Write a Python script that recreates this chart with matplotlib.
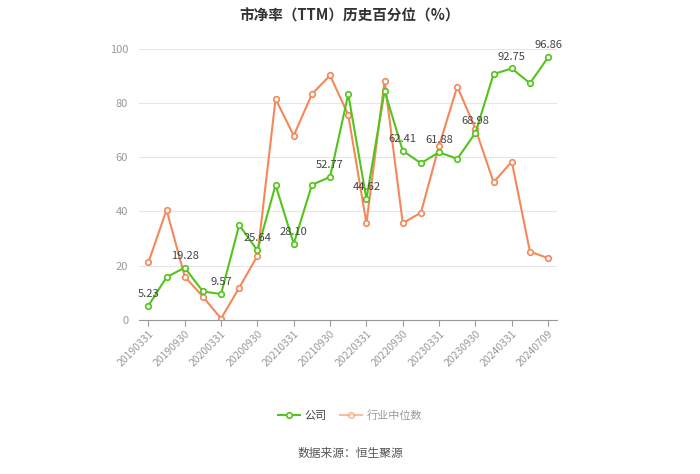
import matplotlib.pyplot as plt
import numpy as np

plt.rcParams['font.family'] = ['Noto Sans CJK SC', 'DejaVu Sans']

dates = ["20190331", "20190630", "20190930", "20191231",
         "20200331", "20200630", "20200930", "20201231",
         "20210331", "20210630", "20210930", "20211231",
         "20220331", "20220630", "20220930", "20221231",
         "20230331", "20230630", "20230930", "20231231",
         "20240331", "20240630", "20240709"]
company = [5.23, 15.8, 19.28, 10.5, 9.57, 35.0, 25.64, 49.8, 28.10, 49.8, 52.77, 83.3,
           44.62, 84.5, 62.41, 57.8, 61.88, 59.4, 68.98, 90.7, 92.75, 87.3, 96.86]
industry = [21.2, 40.6, 16.0, 8.6, 0.5, 11.9, 23.6, 81.5, 68.0, 83.3, 90.2, 75.6,
            35.7, 88.2, 35.7, 39.6, 64.2, 86.1, 70.5, 50.8, 58.4, 25.2, 22.8]

green = "#52c41a"
orange = "#f5875a"

fig = plt.figure(figsize=(7, 4.74), dpi=100)
ax = fig.add_axes([0.199, 0.325, 0.597, 0.572])

x = np.arange(len(dates))
ax.plot(x, company, color=green, lw=1.5, marker="o", ms=4, mfc="white",
        mec=green, mew=1.2, label="公司", zorder=3)
ax.plot(x, industry, color=orange, lw=1.5, marker="o", ms=4, mfc="white",
        mec=orange, mew=1.2, label="行业中位数", zorder=2)

# value labels on every other company point
for i in range(0, len(dates), 2):
    ax.annotate(f"{company[i]:.2f}", (x[i], company[i]), xytext=(0, 5),
                textcoords="offset points", ha="center", va="bottom",
                fontsize=8, color="#444444", zorder=4)

ax.set_xlim(-0.5, len(dates) - 0.5)
ax.set_ylim(0, 100)
ax.set_yticks(range(0, 101, 20))
ax.grid(axis="y", color="#e6e6e6", lw=0.8)
ax.set_axisbelow(True)

tick_idx = list(range(0, len(dates) - 1, 2)) + [len(dates) - 1]
ax.set_xticks(tick_idx)
ax.set_xticklabels([dates[i] for i in tick_idx], rotation=45, ha="right",
                   rotation_mode="anchor", fontsize=7.5, color="#999999")
ax.tick_params(axis="x", length=4, color="#999999", pad=2)
ax.tick_params(axis="y", length=0, labelsize=8, labelcolor="#999999", pad=8)

for s in ["top", "right", "left"]:
    ax.spines[s].set_visible(False)
ax.spines["bottom"].set_color("#999999")

fig.suptitle("市净率（TTM）历史百分位（%）", y=0.985, fontsize=10.5,
             fontweight="bold", color="#333333")

leg = fig.legend(loc="center", bbox_to_anchor=(0.5, 0.123), ncol=2, frameon=False,
                 fontsize=8, handlelength=2, columnspacing=1.2, handletextpad=0.4)
leg.get_texts()[0].set_color("#444444")
leg.get_texts()[1].set_color("#999999")
leg.legend_handles[1].set_alpha(0.55)

fig.text(0.5, 0.035, "数据来源：恒生聚源", ha="center", fontsize=8.5, color="#555555")

fig.savefig("out.png", dpi=100)
